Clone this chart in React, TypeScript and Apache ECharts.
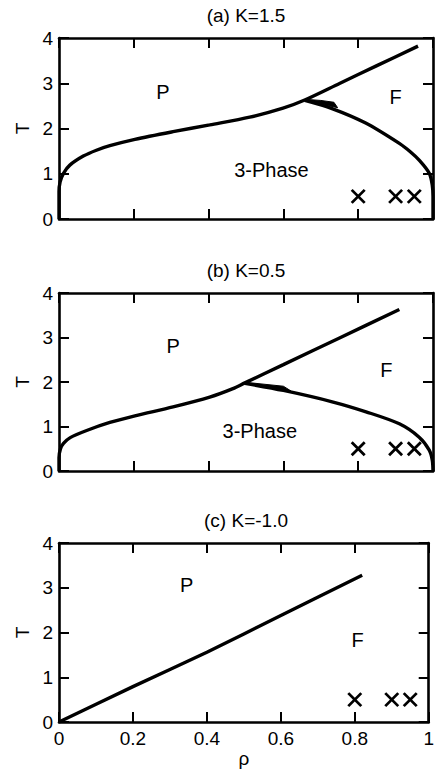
import React, { useEffect, useRef } from "react";
import * as echarts from "echarts";

// ---- data ----
const titles = ["(a) K=1.5", "(b) K=0.5", "(c) K=-1.0"];

// Panel (a)
const curveA = [
  [0, 0], [0, 0.6], [0.003, 0.82], [0.012, 1.01], [0.029, 1.19], [0.065, 1.39],
  [0.1, 1.52], [0.136, 1.62], [0.203, 1.76], [0.305, 1.93], [0.403, 2.08],
  [0.51, 2.25], [0.599, 2.45], [0.657, 2.63], [0.75, 2.995], [0.85, 3.39], [0.96, 3.82],
];
const curveAF = [
  [0.657, 2.62], [0.73, 2.44], [0.82, 2.12], [0.91, 1.67], [0.94, 1.48],
  [0.963, 1.3], [0.99, 1.01], [0.998, 0.75], [1, 0.5], [1, 0],
];
const wedgeA = [[0.657, 2.645], [0.7, 2.62], [0.735, 2.58], [0.745, 2.46], [0.7, 2.54], [0.657, 2.615]];
const labelsA = [["P", 0.278, 2.81], ["F", 0.9, 2.7], ["3-Phase", 0.568, 1.08]];

// Panel (b)
const curveB = [
  [0, 0], [0, 0.3], [0.004, 0.5], [0.012, 0.62], [0.03, 0.75], [0.074, 0.91],
  [0.136, 1.09], [0.203, 1.24], [0.305, 1.44], [0.403, 1.66], [0.465, 1.85],
  [0.497, 1.98], [0.6, 2.39], [0.75, 2.99], [0.91, 3.63],
];
const curveBF = [
  [0.497, 1.97], [0.6, 1.81], [0.733, 1.55], [0.821, 1.33], [0.91, 1.06],
  [0.963, 0.76], [0.99, 0.47], [0.998, 0.25], [1, 0],
];
const wedgeB = [[0.497, 1.995], [0.6, 1.905], [0.62, 1.8], [0.497, 1.96]];
const labelsB = [["P", 0.305, 2.82], ["F", 0.875, 2.26], ["3-Phase", 0.537, 0.91]];

// Panel (c)
const curveC = [[0, 0], [0.2, 0.79], [0.4, 1.56], [0.6, 2.38], [0.82, 3.28]];
const labelsC = [["P", 0.345, 3.06], ["F", 0.808, 1.83]];

// simulation points (×)
const crossX = [0.8, 0.9, 0.95];
const crossY = 0.5;

// ---- layout ----
const gridTops = [38, 293, 543];
const gridHeights = [181, 178, 179];
const FONT = "Liberation Sans";

export default function App() {
  const ref = useRef<HTMLDivElement>(null);
  useEffect(() => {
    if (!ref.current) return;
    const chart = echarts.init(ref.current, undefined, { renderer: "svg" });
    const panels = [
      { curve: curveA, f: curveAF, wedge: wedgeA, labels: labelsA, smooth: 0.3 },
      { curve: curveB, f: curveBF, wedge: wedgeB, labels: labelsB, smooth: 0.3 },
      { curve: curveC, f: null, wedge: null, labels: labelsC, smooth: 0.2 },
    ];
    const grid: any[] = [];
    const xAxis: any[] = [];
    const yAxis: any[] = [];
    const series: any[] = [];
    const graphic: any[] = [];
    const lineStyleAxis = { color: "#000", width: 2.6 };
    panels.forEach((p, i) => {
      grid.push({ left: 59, width: 374, top: gridTops[i], height: gridHeights[i], show: false });
      const isLast = i === 2;
      const xBase = {
        gridIndex: i, type: "value", min: 0, max: 1, interval: 0.2,
        axisLine: { show: true, onZero: false, lineStyle: lineStyleAxis },
        axisTick: { show: true, inside: true, length: 10, lineStyle: { color: "#000", width: 2 } },
        splitLine: { show: false },
      };
      xAxis.push({
        ...xBase, position: "bottom",
        axisLabel: { show: isLast, color: "#000", fontSize: 19, fontFamily: FONT, margin: 7 },
        name: isLast ? "ρ" : "", nameLocation: "middle", nameGap: 18,
        nameTextStyle: { color: "#000", fontSize: 19, fontFamily: FONT },
      });
      xAxis.push({ ...xBase, position: "top", axisLabel: { show: false } });
      const yBase = {
        gridIndex: i, type: "value", min: 0, max: 4, interval: 1,
        axisLine: { show: true, onZero: false, lineStyle: lineStyleAxis },
        axisTick: { show: true, inside: true, length: 10, lineStyle: { color: "#000", width: 2 } },
        splitLine: { show: false },
      };
      yAxis.push({
        ...yBase, position: "left",
        axisLabel: { show: true, color: "#000", fontSize: 19, fontFamily: FONT, margin: 6 },
        name: "T", nameLocation: "middle", nameGap: 19, nameRotate: 90,
        nameTextStyle: { color: "#000", fontSize: 19, fontFamily: FONT },
      });
      yAxis.push({ ...yBase, position: "right", axisLabel: { show: false } });
      const xi = i * 2, yi = i * 2;
      const lineCommon = {
        type: "line", xAxisIndex: xi, yAxisIndex: yi, showSymbol: false, symbol: "none",
        smooth: p.smooth, lineStyle: { color: "#000", width: 3.4 }, silent: true, z: 3,
      };
      series.push({ ...lineCommon, data: p.curve });
      if (p.f) series.push({ ...lineCommon, data: p.f });
      if (p.wedge) {
        const w = p.wedge;
        series.push({
          type: "custom", xAxisIndex: xi, yAxisIndex: yi, data: [[w[0][0], w[0][1]]], silent: true, z: 3,
          renderItem: (_params: any, api: any) => ({
            type: "polygon",
            shape: { points: w.map((pt) => api.coord(pt)) },
            style: { fill: "#000", stroke: "#000", lineWidth: 1 },
          }),
        });
      }
      series.push({
        type: "scatter", xAxisIndex: xi, yAxisIndex: yi, silent: true, z: 4,
        symbol: "path://M0 0L10 10M10 0L0 10", symbolSize: 13,
        itemStyle: { color: "transparent", borderColor: "#000", borderWidth: 2.8, opacity: 1 },
        data: crossX.map((x) => [x, crossY]),
      });
      series.push({
        type: "scatter", xAxisIndex: xi, yAxisIndex: yi, silent: true, z: 4,
        symbolSize: 1, itemStyle: { color: "transparent", opacity: 1 },
        label: {
          show: true, position: "inside", formatter: "{b}", color: "#000",
          fontSize: 20, fontFamily: FONT,
        },
        data: p.labels.map((l) => ({ name: l[0], value: [l[1], l[2]] })),
      });
      graphic.push({
        type: "text", x: 246, y: gridTops[i] - 23,
        style: { text: titles[i], fill: "#000", fontSize: 19, fontFamily: FONT, textAlign: "center", textVerticalAlign: "middle" },
      });
    });
    chart.setOption({
      animation: false,
      backgroundColor: "#fff",
      textStyle: { fontFamily: FONT },
      grid, xAxis, yAxis, series, graphic,
    });
    return () => chart.dispose();
  }, []);
  return <div ref={ref} style={{ position: "fixed", left: 0, top: 0, width: 437, height: 772 }} />;
}
